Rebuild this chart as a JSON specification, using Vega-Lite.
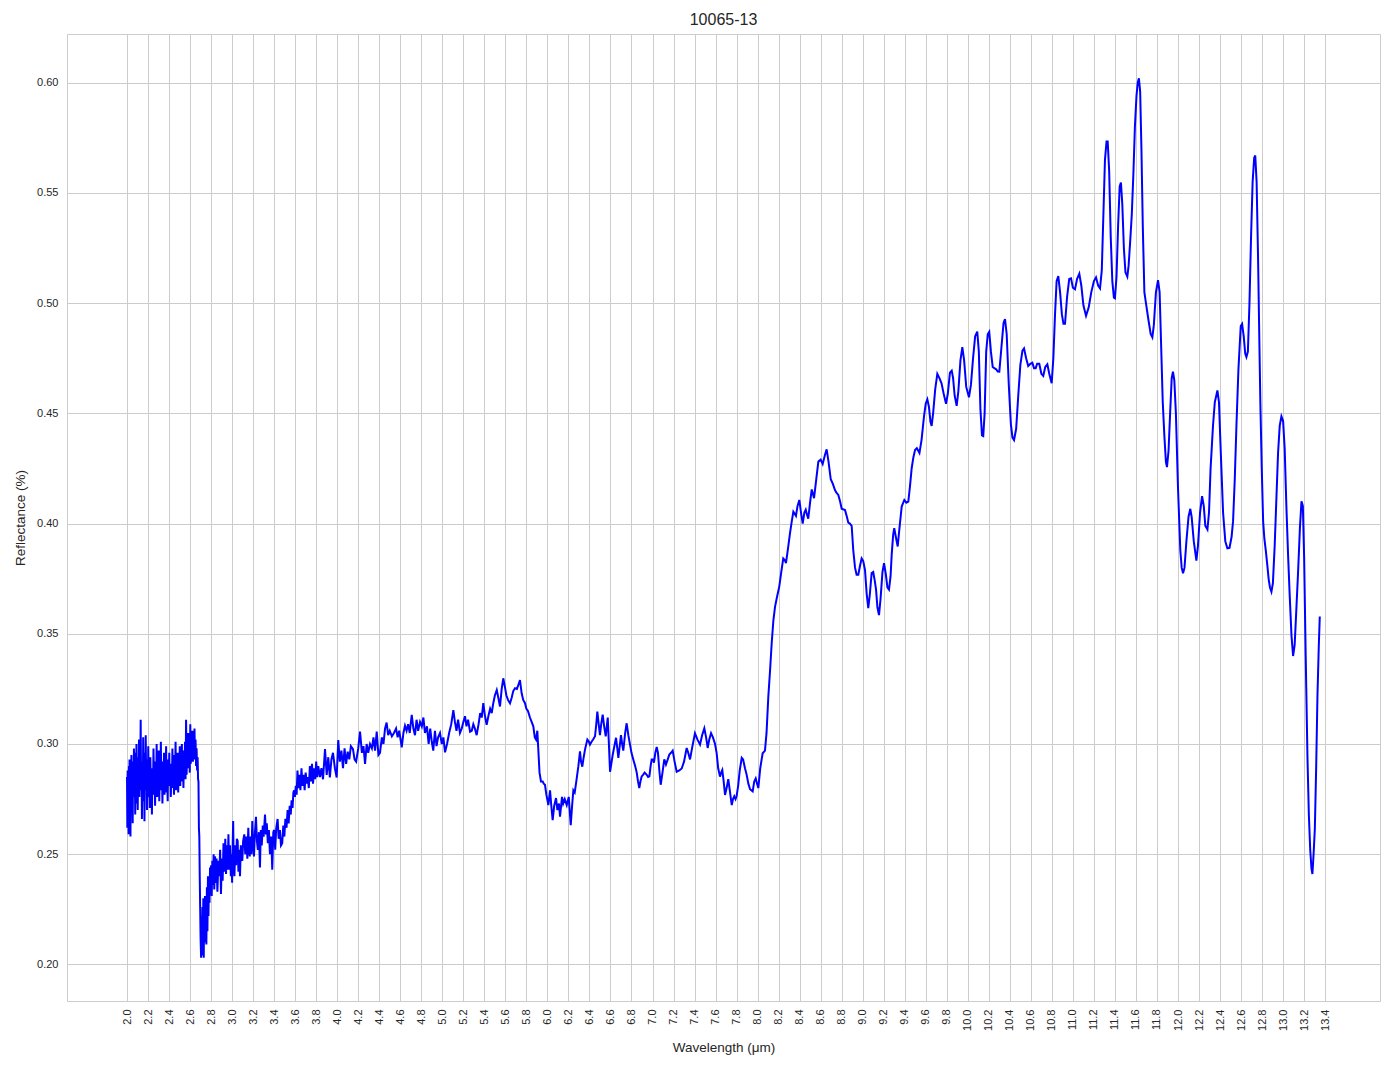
{
"$schema": "https://vega.github.io/schema/vega-lite/v6.json",
"width": 1313, "height": 967,
"autosize": {"type": "none"},
"padding": {"left": 67, "top": 34, "right": 14, "bottom": 68},
"background": "white",
"config": {"view": {"stroke": "#cccccc", "strokeWidth": 1}, "font": "Liberation Sans"},
"title": {"text": "10065-13", "fontSize": 16, "fontWeight": "normal", "color": "#262626", "font": "Liberation Sans", "offset": 6},
"data": {"values": [
{"w":2.000,"r":0.285},{"w":2.003,"r":0.262},{"w":2.006,"r":0.288},{"w":2.009,"r":0.266},{"w":2.012,"r":0.281},{"w":2.015,"r":0.259},{"w":2.018,"r":0.290},{"w":2.021,"r":0.268},{"w":2.024,"r":0.293},{"w":2.027,"r":0.272},{"w":2.030,"r":0.286},{"w":2.033,"r":0.258},{"w":2.036,"r":0.291},{"w":2.039,"r":0.275},{"w":2.042,"r":0.295},{"w":2.046,"r":0.270},{"w":2.050,"r":0.289},{"w":2.054,"r":0.264},{"w":2.058,"r":0.292},{"w":2.062,"r":0.279},{"w":2.066,"r":0.298},{"w":2.070,"r":0.276},{"w":2.074,"r":0.290},{"w":2.078,"r":0.268},{"w":2.082,"r":0.296},{"w":2.086,"r":0.281},{"w":2.090,"r":0.300},{"w":2.094,"r":0.273},{"w":2.098,"r":0.288},{"w":2.102,"r":0.270},{"w":2.106,"r":0.294},{"w":2.110,"r":0.282},{"w":2.114,"r":0.302},{"w":2.118,"r":0.276},{"w":2.122,"r":0.297},{"w":2.126,"r":0.285},{"w":2.130,"r":0.311},{"w":2.134,"r":0.279},{"w":2.138,"r":0.292},{"w":2.142,"r":0.266},{"w":2.146,"r":0.288},{"w":2.150,"r":0.274},{"w":2.154,"r":0.303},{"w":2.158,"r":0.281},{"w":2.162,"r":0.296},{"w":2.166,"r":0.265},{"w":2.170,"r":0.290},{"w":2.174,"r":0.279},{"w":2.178,"r":0.304},{"w":2.182,"r":0.284},{"w":2.186,"r":0.293},{"w":2.190,"r":0.270},{"w":2.194,"r":0.287},{"w":2.198,"r":0.276},{"w":2.202,"r":0.299},{"w":2.207,"r":0.282},{"w":2.212,"r":0.291},{"w":2.217,"r":0.271},{"w":2.222,"r":0.294},{"w":2.227,"r":0.280},{"w":2.232,"r":0.287},{"w":2.237,"r":0.268},{"w":2.242,"r":0.289},{"w":2.247,"r":0.277},{"w":2.252,"r":0.298},{"w":2.257,"r":0.283},{"w":2.262,"r":0.292},{"w":2.267,"r":0.272},{"w":2.272,"r":0.286},{"w":2.277,"r":0.279},{"w":2.282,"r":0.300},{"w":2.287,"r":0.276},{"w":2.292,"r":0.290},{"w":2.297,"r":0.281},{"w":2.302,"r":0.297},{"w":2.307,"r":0.274},{"w":2.312,"r":0.289},{"w":2.317,"r":0.282},{"w":2.322,"r":0.301},{"w":2.327,"r":0.279},{"w":2.332,"r":0.292},{"w":2.337,"r":0.273},{"w":2.342,"r":0.288},{"w":2.347,"r":0.280},{"w":2.352,"r":0.296},{"w":2.357,"r":0.277},{"w":2.362,"r":0.290},{"w":2.367,"r":0.283},{"w":2.372,"r":0.299},{"w":2.377,"r":0.278},{"w":2.382,"r":0.287},{"w":2.387,"r":0.274},{"w":2.392,"r":0.293},{"w":2.397,"r":0.281},{"w":2.402,"r":0.296},{"w":2.407,"r":0.282},{"w":2.412,"r":0.291},{"w":2.417,"r":0.276},{"w":2.422,"r":0.289},{"w":2.427,"r":0.280},{"w":2.432,"r":0.298},{"w":2.437,"r":0.283},{"w":2.442,"r":0.292},{"w":2.447,"r":0.277},{"w":2.452,"r":0.295},{"w":2.457,"r":0.284},{"w":2.462,"r":0.301},{"w":2.467,"r":0.279},{"w":2.472,"r":0.290},{"w":2.477,"r":0.282},{"w":2.482,"r":0.296},{"w":2.487,"r":0.278},{"w":2.492,"r":0.293},{"w":2.497,"r":0.285},{"w":2.502,"r":0.299},{"w":2.507,"r":0.281},{"w":2.512,"r":0.294},{"w":2.517,"r":0.286},{"w":2.522,"r":0.300},{"w":2.527,"r":0.283},{"w":2.532,"r":0.292},{"w":2.537,"r":0.280},{"w":2.542,"r":0.297},{"w":2.547,"r":0.287},{"w":2.552,"r":0.301},{"w":2.557,"r":0.284},{"w":2.562,"r":0.311},{"w":2.567,"r":0.286},{"w":2.572,"r":0.296},{"w":2.577,"r":0.289},{"w":2.582,"r":0.305},{"w":2.587,"r":0.290},{"w":2.592,"r":0.301},{"w":2.597,"r":0.287},{"w":2.602,"r":0.309},{"w":2.607,"r":0.291},{"w":2.612,"r":0.304},{"w":2.617,"r":0.294},{"w":2.622,"r":0.306},{"w":2.627,"r":0.292},{"w":2.632,"r":0.303},{"w":2.637,"r":0.295},{"w":2.642,"r":0.307},{"w":2.647,"r":0.293},{"w":2.652,"r":0.302},{"w":2.657,"r":0.290},{"w":2.662,"r":0.298},{"w":2.667,"r":0.288},{"w":2.672,"r":0.294},{"w":2.676,"r":0.284},{"w":2.680,"r":0.283},{"w":2.684,"r":0.262},{"w":2.688,"r":0.258},{"w":2.692,"r":0.240},{"w":2.696,"r":0.226},{"w":2.700,"r":0.212},{"w":2.705,"r":0.203},{"w":2.710,"r":0.222},{"w":2.714,"r":0.205},{"w":2.718,"r":0.226},{"w":2.722,"r":0.204},{"w":2.726,"r":0.230},{"w":2.730,"r":0.203},{"w":2.734,"r":0.221},{"w":2.738,"r":0.210},{"w":2.742,"r":0.231},{"w":2.746,"r":0.213},{"w":2.750,"r":0.227},{"w":2.755,"r":0.209},{"w":2.760,"r":0.235},{"w":2.765,"r":0.215},{"w":2.770,"r":0.240},{"w":2.775,"r":0.222},{"w":2.780,"r":0.240},{"w":2.785,"r":0.228},{"w":2.790,"r":0.244},{"w":2.795,"r":0.232},{"w":2.800,"r":0.245},{"w":2.806,"r":0.231},{"w":2.812,"r":0.247},{"w":2.818,"r":0.236},{"w":2.824,"r":0.250},{"w":2.830,"r":0.234},{"w":2.838,"r":0.249},{"w":2.845,"r":0.237},{"w":2.852,"r":0.248},{"w":2.860,"r":0.233},{"w":2.870,"r":0.247},{"w":2.878,"r":0.240},{"w":2.886,"r":0.252},{"w":2.894,"r":0.232},{"w":2.902,"r":0.248},{"w":2.910,"r":0.238},{"w":2.918,"r":0.255},{"w":2.927,"r":0.242},{"w":2.935,"r":0.257},{"w":2.942,"r":0.241},{"w":2.950,"r":0.254},{"w":2.958,"r":0.243},{"w":2.965,"r":0.259},{"w":2.972,"r":0.243},{"w":2.980,"r":0.254},{"w":2.988,"r":0.240},{"w":2.995,"r":0.250},{"w":3.000,"r":0.237},{"w":3.005,"r":0.253},{"w":3.010,"r":0.265},{"w":3.015,"r":0.245},{"w":3.022,"r":0.240},{"w":3.030,"r":0.254},{"w":3.038,"r":0.245},{"w":3.045,"r":0.257},{"w":3.053,"r":0.256},{"w":3.060,"r":0.242},{"w":3.068,"r":0.252},{"w":3.075,"r":0.240},{"w":3.083,"r":0.254},{"w":3.090,"r":0.248},{"w":3.097,"r":0.247},{"w":3.105,"r":0.256},{"w":3.116,"r":0.259},{"w":3.125,"r":0.250},{"w":3.135,"r":0.258},{"w":3.145,"r":0.248},{"w":3.154,"r":0.262},{"w":3.160,"r":0.252},{"w":3.168,"r":0.249},{"w":3.176,"r":0.258},{"w":3.184,"r":0.250},{"w":3.192,"r":0.265},{"w":3.200,"r":0.254},{"w":3.208,"r":0.249},{"w":3.216,"r":0.259},{"w":3.227,"r":0.267},{"w":3.236,"r":0.256},{"w":3.245,"r":0.252},{"w":3.255,"r":0.260},{"w":3.265,"r":0.244},{"w":3.273,"r":0.261},{"w":3.282,"r":0.254},{"w":3.292,"r":0.263},{"w":3.300,"r":0.258},{"w":3.313,"r":0.268},{"w":3.322,"r":0.259},{"w":3.330,"r":0.264},{"w":3.340,"r":0.255},{"w":3.350,"r":0.261},{"w":3.360,"r":0.250},{"w":3.372,"r":0.258},{"w":3.382,"r":0.243},{"w":3.392,"r":0.260},{"w":3.400,"r":0.261},{"w":3.410,"r":0.252},{"w":3.420,"r":0.262},{"w":3.433,"r":0.266},{"w":3.443,"r":0.257},{"w":3.455,"r":0.261},{"w":3.465,"r":0.254},{"w":3.477,"r":0.255},{"w":3.487,"r":0.263},{"w":3.497,"r":0.258},{"w":3.507,"r":0.266},{"w":3.518,"r":0.262},{"w":3.528,"r":0.270},{"w":3.538,"r":0.264},{"w":3.548,"r":0.272},{"w":3.558,"r":0.268},{"w":3.566,"r":0.2745},{"w":3.575,"r":0.271},{"w":3.583,"r":0.278},{"w":3.590,"r":0.279},{"w":3.598,"r":0.276},{"w":3.606,"r":0.281},{"w":3.614,"r":0.277},{"w":3.622,"r":0.288},{"w":3.630,"r":0.280},{"w":3.640,"r":0.286},{"w":3.650,"r":0.279},{"w":3.660,"r":0.289},{"w":3.670,"r":0.281},{"w":3.680,"r":0.286},{"w":3.690,"r":0.279},{"w":3.700,"r":0.287},{"w":3.710,"r":0.282},{"w":3.720,"r":0.285},{"w":3.730,"r":0.280},{"w":3.740,"r":0.290},{"w":3.750,"r":0.283},{"w":3.760,"r":0.291},{"w":3.770,"r":0.282},{"w":3.780,"r":0.289},{"w":3.790,"r":0.284},{"w":3.800,"r":0.292},{"w":3.810,"r":0.285},{"w":3.820,"r":0.290},{"w":3.836,"r":0.285},
{"w":3.850,"r":0.289},{"w":3.865,"r":0.284},{"w":3.884,"r":0.2977},{"w":3.900,"r":0.286},{"w":3.915,"r":0.294},{"w":3.930,"r":0.2848},{"w":3.945,"r":0.293},{"w":3.960,"r":0.296},{"w":3.978,"r":0.289},{"w":3.995,"r":0.2848},{"w":4.010,"r":0.3018},{"w":4.025,"r":0.292},{"w":4.040,"r":0.297},{"w":4.055,"r":0.289},{"w":4.070,"r":0.298},{"w":4.085,"r":0.291},{"w":4.100,"r":0.2965},{"w":4.115,"r":0.293},{"w":4.130,"r":0.299},{"w":4.150,"r":0.2977},{"w":4.165,"r":0.293},{"w":4.180,"r":0.292},{"w":4.200,"r":0.298},{"w":4.217,"r":0.3056},{"w":4.235,"r":0.296},{"w":4.250,"r":0.299},{"w":4.265,"r":0.291},{"w":4.280,"r":0.300},{"w":4.295,"r":0.296},{"w":4.312,"r":0.300},{"w":4.330,"r":0.298},{"w":4.345,"r":0.303},{"w":4.360,"r":0.297},{"w":4.376,"r":0.3056},{"w":4.392,"r":0.295},{"w":4.407,"r":0.296},{"w":4.425,"r":0.303},{"w":4.440,"r":0.300},{"w":4.455,"r":0.307},{"w":4.470,"r":0.3097},{"w":4.485,"r":0.304},{"w":4.500,"r":0.306},{"w":4.520,"r":0.3035},{"w":4.540,"r":0.305},{"w":4.560,"r":0.307},{"w":4.575,"r":0.303},{"w":4.590,"r":0.306},{"w":4.614,"r":0.2985},{"w":4.630,"r":0.305},{"w":4.645,"r":0.3083},{"w":4.660,"r":0.306},{"w":4.675,"r":0.309},{"w":4.690,"r":0.305},{"w":4.709,"r":0.3132},{"w":4.725,"r":0.307},{"w":4.740,"r":0.304},{"w":4.755,"r":0.311},{"w":4.770,"r":0.306},{"w":4.788,"r":0.310},{"w":4.805,"r":0.308},{"w":4.820,"r":0.312},{"w":4.835,"r":0.305},{"w":4.854,"r":0.308},{"w":4.870,"r":0.300},{"w":4.885,"r":0.307},{"w":4.900,"r":0.301},{"w":4.914,"r":0.297},{"w":4.930,"r":0.306},{"w":4.945,"r":0.299},{"w":4.960,"r":0.303},{"w":4.978,"r":0.305},{"w":4.995,"r":0.300},{"w":5.010,"r":0.303},{"w":5.026,"r":0.2962},{"w":5.045,"r":0.300},{"w":5.065,"r":0.305},{"w":5.085,"r":0.309},{"w":5.105,"r":0.3154},{"w":5.120,"r":0.310},{"w":5.135,"r":0.306},{"w":5.150,"r":0.311},{"w":5.168,"r":0.305},{"w":5.185,"r":0.307},{"w":5.200,"r":0.310},{"w":5.216,"r":0.3126},{"w":5.230,"r":0.308},{"w":5.245,"r":0.311},{"w":5.264,"r":0.3056},{"w":5.280,"r":0.306},{"w":5.295,"r":0.309},{"w":5.310,"r":0.307},{"w":5.327,"r":0.304},{"w":5.345,"r":0.309},{"w":5.360,"r":0.314},{"w":5.375,"r":0.312},{"w":5.390,"r":0.3185},{"w":5.405,"r":0.313},{"w":5.422,"r":0.3087},{"w":5.440,"r":0.313},{"w":5.455,"r":0.316},{"w":5.470,"r":0.314},{"w":5.485,"r":0.3185},{"w":5.500,"r":0.322},{"w":5.518,"r":0.3245},{"w":5.533,"r":0.321},{"w":5.549,"r":0.317},{"w":5.565,"r":0.325},{"w":5.580,"r":0.3298},{"w":5.595,"r":0.326},{"w":5.610,"r":0.322},{"w":5.625,"r":0.320},{"w":5.644,"r":0.3185},{"w":5.660,"r":0.321},{"w":5.675,"r":0.324},{"w":5.692,"r":0.3253},{"w":5.710,"r":0.325},{"w":5.725,"r":0.327},{"w":5.739,"r":0.329},{"w":5.755,"r":0.323},{"w":5.770,"r":0.320},{"w":5.787,"r":0.3185},{"w":5.800,"r":0.316},{"w":5.815,"r":0.315},{"w":5.834,"r":0.312},{"w":5.850,"r":0.310},{"w":5.866,"r":0.308},{"w":5.880,"r":0.303},{"w":5.892,"r":0.302},{"w":5.904,"r":0.306},{"w":5.915,"r":0.296},{"w":5.925,"r":0.287},{"w":5.939,"r":0.283},{"w":5.955,"r":0.283},{"w":5.965,"r":0.282},{"w":5.977,"r":0.2815},{"w":5.990,"r":0.277},{"w":6.009,"r":0.2723},{"w":6.025,"r":0.279},{"w":6.037,"r":0.272},{"w":6.050,"r":0.2655},{"w":6.065,"r":0.272},{"w":6.082,"r":0.2755},{"w":6.095,"r":0.270},{"w":6.110,"r":0.273},{"w":6.120,"r":0.267},{"w":6.139,"r":0.276},{"w":6.150,"r":0.273},{"w":6.165,"r":0.275},{"w":6.184,"r":0.2723},{"w":6.203,"r":0.276},{"w":6.222,"r":0.2632},{"w":6.235,"r":0.272},{"w":6.247,"r":0.279},{"w":6.260,"r":0.278},{"w":6.275,"r":0.283},{"w":6.294,"r":0.2897},{"w":6.310,"r":0.2967},{"w":6.320,"r":0.292},{"w":6.332,"r":0.2897},{"w":6.345,"r":0.294},{"w":6.360,"r":0.298},{"w":6.380,"r":0.302},{"w":6.395,"r":0.301},{"w":6.405,"r":0.2997},{"w":6.420,"r":0.301},{"w":6.435,"r":0.302},{"w":6.453,"r":0.3035},{"w":6.465,"r":0.309},{"w":6.475,"r":0.3147},{"w":6.488,"r":0.309},{"w":6.500,"r":0.304},{"w":6.512,"r":0.309},{"w":6.526,"r":0.3133},{"w":6.540,"r":0.308},{"w":6.555,"r":0.3035},{"w":6.565,"r":0.308},{"w":6.574,"r":0.312},{"w":6.585,"r":0.300},{"w":6.596,"r":0.2874},{"w":6.608,"r":0.291},{"w":6.621,"r":0.295},{"w":6.637,"r":0.299},{"w":6.653,"r":0.3028},{"w":6.665,"r":0.298},{"w":6.675,"r":0.2937},{"w":6.688,"r":0.299},{"w":6.700,"r":0.304},{"w":6.711,"r":0.300},{"w":6.722,"r":0.297},{"w":6.740,"r":0.305},{"w":6.754,"r":0.3094},{"w":6.770,"r":0.304},{"w":6.786,"r":0.2997},{"w":6.800,"r":0.296},{"w":6.817,"r":0.293},{"w":6.835,"r":0.290},{"w":6.850,"r":0.287},{"w":6.862,"r":0.283},{"w":6.874,"r":0.280},{"w":6.885,"r":0.283},{"w":6.897,"r":0.2853},{"w":6.910,"r":0.286},{"w":6.925,"r":0.287},{"w":6.945,"r":0.2860},{"w":6.958,"r":0.285},{"w":6.970,"r":0.2853},{"w":6.982,"r":0.290},{"w":6.992,"r":0.293},{"w":7.003,"r":0.293},{"w":7.014,"r":0.2915},{"w":7.027,"r":0.296},{"w":7.040,"r":0.2987},{"w":7.052,"r":0.296},{"w":7.065,"r":0.288},{"w":7.078,"r":0.2815},{"w":7.095,"r":0.287},{"w":7.112,"r":0.293},{"w":7.120,"r":0.292},{"w":7.128,"r":0.2907},{"w":7.145,"r":0.293},{"w":7.160,"r":0.2952},{"w":7.176,"r":0.296},{"w":7.192,"r":0.297},{"w":7.210,"r":0.292},{"w":7.230,"r":0.2874},{"w":7.255,"r":0.288},{"w":7.278,"r":0.2889},{"w":7.300,"r":0.292},{"w":7.325,"r":0.2982},{"w":7.340,"r":0.296},{"w":7.357,"r":0.293},{"w":7.380,"r":0.299},{"w":7.404,"r":0.3049},{"w":7.428,"r":0.302},{"w":7.452,"r":0.2997},{"w":7.472,"r":0.304},{"w":7.493,"r":0.3071},{"w":7.510,"r":0.303},{"w":7.525,"r":0.2982},{"w":7.540,"r":0.302},{"w":7.557,"r":0.3049},{"w":7.575,"r":0.303},{"w":7.595,"r":0.300},{"w":7.610,"r":0.296},{"w":7.625,"r":0.289},{"w":7.642,"r":0.2852},{"w":7.653,"r":0.287},{"w":7.664,"r":0.2882},{"w":7.677,"r":0.283},{"w":7.690,"r":0.2769},{"w":7.705,"r":0.280},{"w":7.721,"r":0.284},{"w":7.738,"r":0.278},{"w":7.754,"r":0.2723},{"w":7.766,"r":0.275},{"w":7.778,"r":0.2763},{"w":7.790,"r":0.275},{"w":7.800,"r":0.2763},{"w":7.815,"r":0.281},{"w":7.830,"r":0.288},{"w":7.849,"r":0.2937},{"w":7.862,"r":0.293},{"w":7.880,"r":0.289},{"w":7.896,"r":0.2860},{"w":7.912,"r":0.282},{"w":7.928,"r":0.2795},{"w":7.953,"r":0.2785},{"w":7.968,"r":0.283},{"w":7.982,"r":0.2844},{"w":7.995,"r":0.282},{"w":8.007,"r":0.2800},{"w":8.025,"r":0.289},{"w":8.048,"r":0.2958},{"w":8.070,"r":0.297},{"w":8.085,"r":0.305},{"w":8.102,"r":0.3215},{"w":8.118,"r":0.333},{"w":8.134,"r":0.3457},{"w":8.150,"r":0.356},{"w":8.166,"r":0.3623},{"w":8.186,"r":0.367},{"w":8.206,"r":0.3714},{"w":8.225,"r":0.378},{"w":8.244,"r":0.3842},{"w":8.258,"r":0.3835},{"w":8.270,"r":0.382},{"w":8.290,"r":0.389},{"w":8.308,"r":0.3956},{"w":8.325,"r":0.401},{"w":8.340,"r":0.4054},{"w":8.352,"r":0.4045},{"w":8.365,"r":0.4035},{"w":8.380,"r":0.408},{"w":8.397,"r":0.4107},{"w":8.413,"r":0.405},{"w":8.429,"r":0.400},{"w":8.445,"r":0.405},{"w":8.458,"r":0.4063},{"w":8.470,"r":0.404},{"w":8.482,"r":0.4022},{"w":8.498,"r":0.409},{"w":8.515,"r":0.4155},{"w":8.537,"r":0.4115},{"w":8.558,"r":0.420},{"w":8.578,"r":0.4281},{"w":8.600,"r":0.429},{"w":8.619,"r":0.427},{"w":8.640,"r":0.431},{"w":8.657,"r":0.4337},{"w":8.675,"r":0.428},{"w":8.696,"r":0.4201},{"w":8.716,"r":0.418},{"w":8.736,"r":0.4152},{"w":8.750,"r":0.414},{"w":8.768,"r":0.413},{"w":8.785,"r":0.410},{"w":8.800,"r":0.4067},{"w":8.832,"r":0.4061},{"w":8.850,"r":0.403},{"w":8.863,"r":0.4004},{"w":8.878,"r":0.400},{"w":8.895,"r":0.399},{"w":8.910,"r":0.388},{"w":8.927,"r":0.380},{"w":8.942,"r":0.3768},{"w":8.958,"r":0.3768},{"w":8.975,"r":0.381},{"w":8.990,"r":0.3842},{"w":9.005,"r":0.383},{"w":9.022,"r":0.3789},{"w":9.038,"r":0.368},{"w":9.053,"r":0.3616},{"w":9.068,"r":0.368},{"w":9.085,"r":0.3775},{"w":9.100,"r":0.378},{"w":9.115,"r":0.374},{"w":9.127,"r":0.370},{"w":9.140,"r":0.362},{"w":9.155,"r":0.3585},{"w":9.170,"r":0.366},{"w":9.188,"r":0.378},{"w":9.203,"r":0.382},{"w":9.220,"r":0.377},{"w":9.235,"r":0.371},{"w":9.250,"r":0.370},{"w":9.265,"r":0.376},{"w":9.276,"r":0.386},{"w":9.290,"r":0.395},{"w":9.300,"r":0.3979},{"w":9.315,"r":0.394},{"w":9.333,"r":0.3896},{"w":9.350,"r":0.398},{"w":9.371,"r":0.4077},{"w":9.396,"r":0.4107},{"w":9.415,"r":0.4095},{"w":9.434,"r":0.410},{"w":9.450,"r":0.417},{"w":9.466,"r":0.4251},{"w":9.482,"r":0.430},{"w":9.498,"r":0.4334},{"w":9.515,"r":0.4342},{"w":9.540,"r":0.432},{"w":9.560,"r":0.438},{"w":9.583,"r":0.4485},{"w":9.600,"r":0.4545},{"w":9.615,"r":0.4564},{"w":9.630,"r":0.453},{"w":9.645,"r":0.446},{"w":9.656,"r":0.4443},{"w":9.670,"r":0.450},{"w":9.690,"r":0.461},{"w":9.710,"r":0.4679},{"w":9.730,"r":0.466},{"w":9.750,"r":0.4636},{"w":9.770,"r":0.459},{"w":9.793,"r":0.4543},{"w":9.810,"r":0.459},{"w":9.830,"r":0.4685},{"w":9.847,"r":0.4694},{"w":9.860,"r":0.466},{"w":9.875,"r":0.458},{"w":9.894,"r":0.4534},{"w":9.910,"r":0.460},{"w":9.930,"r":0.474},{"w":9.948,"r":0.480},{"w":9.965,"r":0.474},{"w":9.985,"r":0.462},{"w":10.011,"r":0.4573},{"w":10.030,"r":0.463},{"w":10.050,"r":0.475},{"w":10.070,"r":0.485},{"w":10.090,"r":0.4871},{"w":10.105,"r":0.478},{"w":10.120,"r":0.452},{"w":10.135,"r":0.440},{"w":10.147,"r":0.4397},{"w":10.160,"r":0.450},{"w":10.175,"r":0.478},{"w":10.190,"r":0.486},{"w":10.204,"r":0.487},{"w":10.220,"r":0.478},{"w":10.237,"r":0.471},{"w":10.252,"r":0.4705},{"w":10.270,"r":0.470},{"w":10.285,"r":0.469},{"w":10.300,"r":0.4689},{"w":10.320,"r":0.480},{"w":10.340,"r":0.491},{"w":10.354,"r":0.4927},{"w":10.370,"r":0.486},{"w":10.390,"r":0.463},{"w":10.410,"r":0.445},{"w":10.425,"r":0.439},{"w":10.440,"r":0.4379},{"w":10.460,"r":0.443},{"w":10.480,"r":0.458},{"w":10.500,"r":0.472},{"w":10.520,"r":0.4785},{"w":10.535,"r":0.4795},{"w":10.555,"r":0.475},{"w":10.575,"r":0.4715},{"w":10.595,"r":0.4725},{"w":10.614,"r":0.4730},{"w":10.630,"r":0.4705},{"w":10.646,"r":0.4705},{"w":10.660,"r":0.4725},{"w":10.680,"r":0.4725},{"w":10.700,"r":0.4680},{"w":10.718,"r":0.467},{"w":10.737,"r":0.471},{"w":10.757,"r":0.4722},{"w":10.775,"r":0.468},{"w":10.798,"r":0.4637},{"w":10.814,"r":0.475},{"w":10.830,"r":0.495},{"w":10.845,"r":0.510},{"w":10.861,"r":0.5123},{"w":10.878,"r":0.505},{"w":10.895,"r":0.495},{"w":10.910,"r":0.4906},{"w":10.925,"r":0.4906},{"w":10.945,"r":0.503},{"w":10.965,"r":0.511},{"w":10.982,"r":0.5113},{"w":11.000,"r":0.507},{"w":11.020,"r":0.5063},{"w":11.040,"r":0.511},{"w":11.061,"r":0.5133},{"w":11.080,"r":0.508},{"w":11.100,"r":0.499},{"w":11.125,"r":0.4942},{"w":11.150,"r":0.498},{"w":11.175,"r":0.505},{"w":11.200,"r":0.510},{"w":11.220,"r":0.5117},{"w":11.240,"r":0.508},{"w":11.258,"r":0.5067},{"w":11.275,"r":0.515},{"w":11.290,"r":0.540},{"w":11.305,"r":0.565},{"w":11.320,"r":0.5733},{"w":11.331,"r":0.5733},{"w":11.345,"r":0.560},{"w":11.360,"r":0.530},{"w":11.375,"r":0.510},{"w":11.390,"r":0.5025},{"w":11.400,"r":0.5022},{"w":11.415,"r":0.512},{"w":11.430,"r":0.535},{"w":11.445,"r":0.553},{"w":11.457,"r":0.5547},{"w":11.470,"r":0.545},{"w":11.485,"r":0.525},{"w":11.500,"r":0.514},{"w":11.518,"r":0.512},{"w":11.530,"r":0.517},{"w":11.545,"r":0.528},{"w":11.560,"r":0.540},{"w":11.575,"r":0.558},{"w":11.590,"r":0.580},{"w":11.605,"r":0.594},{"w":11.617,"r":0.600},{"w":11.628,"r":0.602},{"w":11.640,"r":0.596},{"w":11.652,"r":0.570},{"w":11.665,"r":0.535},{"w":11.680,"r":0.505},{"w":11.700,"r":0.4984},{"w":11.720,"r":0.492},{"w":11.740,"r":0.486},{"w":11.756,"r":0.4845},{"w":11.770,"r":0.490},{"w":11.790,"r":0.505},{"w":11.810,"r":0.5104},{"w":11.825,"r":0.505},{"w":11.840,"r":0.480},{"w":11.855,"r":0.455},{"w":11.870,"r":0.440},{"w":11.885,"r":0.428},{"w":11.895,"r":0.4256},{"w":11.910,"r":0.433},{"w":11.925,"r":0.450},{"w":11.940,"r":0.466},{"w":11.952,"r":0.4689},{"w":11.965,"r":0.465},{"w":11.980,"r":0.450},{"w":12.000,"r":0.4162},{"w":12.022,"r":0.3879},{"w":12.035,"r":0.380},{"w":12.048,"r":0.3775},{"w":12.062,"r":0.380},{"w":12.080,"r":0.392},{"w":12.100,"r":0.403},{"w":12.117,"r":0.4067},{"w":12.130,"r":0.403},{"w":12.150,"r":0.392},{"w":12.175,"r":0.3832},{"w":12.190,"r":0.390},{"w":12.210,"r":0.405},{"w":12.229,"r":0.4124},{"w":12.245,"r":0.408},{"w":12.260,"r":0.399},{"w":12.280,"r":0.3973},{"w":12.295,"r":0.405},{"w":12.310,"r":0.425},{"w":12.333,"r":0.4444},{"w":12.350,"r":0.455},{"w":12.375,"r":0.4604},{"w":12.390,"r":0.455},{"w":12.405,"r":0.435},{"w":12.429,"r":0.4049},{"w":12.450,"r":0.392},{"w":12.470,"r":0.3888},{"w":12.490,"r":0.389},{"w":12.510,"r":0.394},{"w":12.524,"r":0.4011},{"w":12.540,"r":0.420},{"w":12.556,"r":0.4444},{"w":12.575,"r":0.470},{"w":12.597,"r":0.4896},{"w":12.610,"r":0.4906},{"w":12.625,"r":0.485},{"w":12.640,"r":0.477},{"w":12.651,"r":0.4755},{"w":12.665,"r":0.478},{"w":12.680,"r":0.500},{"w":12.695,"r":0.530},{"w":12.710,"r":0.555},{"w":12.725,"r":0.566},{"w":12.735,"r":0.567},{"w":12.748,"r":0.555},{"w":12.762,"r":0.520},{"w":12.775,"r":0.480},{"w":12.784,"r":0.4538},{"w":12.797,"r":0.425},{"w":12.810,"r":0.401},{"w":12.822,"r":0.393},{"w":12.835,"r":0.388},{"w":12.850,"r":0.381},{"w":12.863,"r":0.3747},{"w":12.875,"r":0.371},{"w":12.889,"r":0.3691},{"w":12.903,"r":0.373},{"w":12.920,"r":0.390},{"w":12.937,"r":0.4124},{"w":12.952,"r":0.432},{"w":12.968,"r":0.4444},{"w":12.984,"r":0.4486},{"w":13.000,"r":0.4465},{"w":13.015,"r":0.434},{"w":13.032,"r":0.4067},{"w":13.048,"r":0.385},{"w":13.063,"r":0.3672},{"w":13.080,"r":0.349},{"w":13.095,"r":0.3399},{"w":13.110,"r":0.345},{"w":13.125,"r":0.360},{"w":13.143,"r":0.3785},{"w":13.160,"r":0.398},{"w":13.175,"r":0.4101},{"w":13.188,"r":0.408},{"w":13.200,"r":0.385},{"w":13.215,"r":0.340},{"w":13.232,"r":0.2937},{"w":13.245,"r":0.268},{"w":13.258,"r":0.252},{"w":13.270,"r":0.2435},{"w":13.279,"r":0.2410},{"w":13.290,"r":0.250},{"w":13.302,"r":0.2615},{"w":13.315,"r":0.290},{"w":13.327,"r":0.322},{"w":13.340,"r":0.345},{"w":13.349,"r":0.3578}
]},
"mark": {"type": "line", "color": "#0000ff", "strokeWidth": 2, "interpolate": "linear"},
"encoding": {
"x": {"field": "w", "type": "quantitative", "sort": null,
 "scale": {"domain": [1.429, 13.922], "nice": false, "zero": false},
 "axis": {"title": "Wavelength (μm)", "values": [2.0,2.2,2.4,2.6,2.8,3.0,3.2,3.4,3.6,3.8,4.0,4.2,4.4,4.6,4.8,5.0,5.2,5.4,5.6,5.8,6.0,6.2,6.4,6.6,6.8,7.0,7.2,7.4,7.6,7.8,8.0,8.2,8.4,8.6,8.8,9.0,9.2,9.4,9.6,9.8,10.0,10.2,10.4,10.6,10.8,11.0,11.2,11.4,11.6,11.8,12.0,12.2,12.4,12.6,12.8,13.0,13.2,13.4],
  "format": ".1f", "labelAngle": -90, "labelFontSize": 11, "labelColor": "#262626", "labelPadding": 8, "labelFont": "Liberation Sans",
  "titleFontSize": 13.5, "titleFontWeight": "normal", "titleColor": "#262626", "titleFont": "Liberation Sans", "titlePadding": 10,
  "ticks": false, "domain": false, "grid": true, "gridColor": "#cccccc", "gridWidth": 1, "labelOverlap": false}},
"y": {"field": "r", "type": "quantitative",
 "scale": {"domain": [0.1834, 0.6221], "nice": false, "zero": false},
 "axis": {"title": "Reflectance (%)", "values": [0.20,0.25,0.30,0.35,0.40,0.45,0.50,0.55,0.60], "format": ".2f",
  "labelFontSize": 11, "labelColor": "#262626", "labelPadding": 9, "labelFont": "Liberation Sans",
  "titleFontSize": 13.5, "titleFontWeight": "normal", "titleColor": "#262626", "titleFont": "Liberation Sans", "titlePadding": 9,
  "ticks": false, "domain": false, "grid": true, "gridColor": "#cccccc", "gridWidth": 1}}
}
}
